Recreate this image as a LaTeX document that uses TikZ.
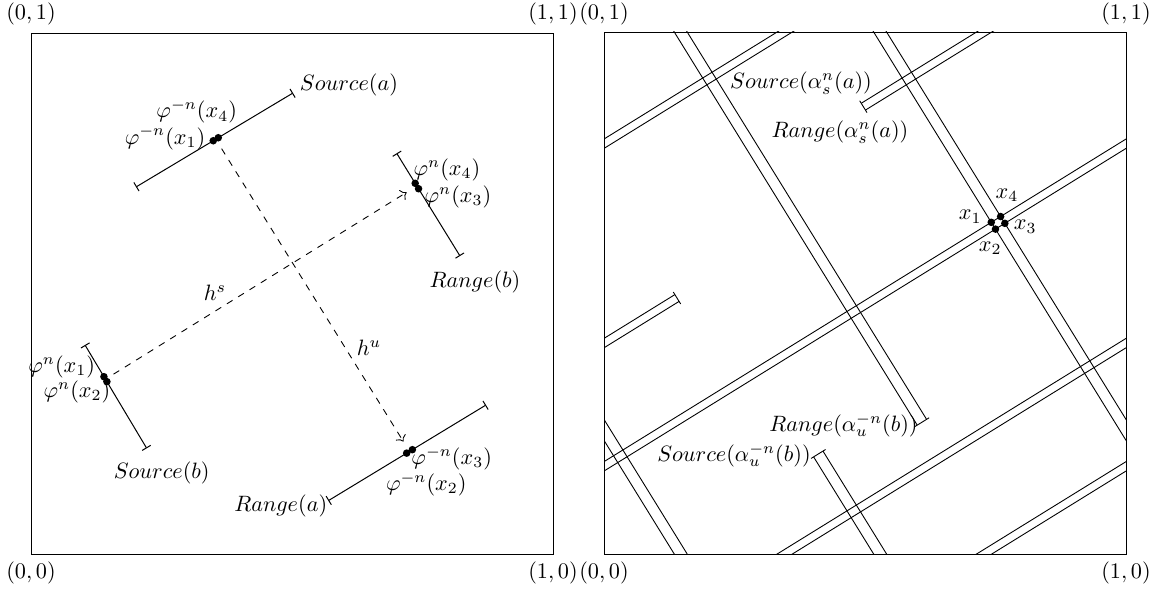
\documentclass[tikz,border=0pt]{standalone}
\usetikzlibrary{arrows.meta,calc}
\begin{document}
\begin{tikzpicture}[x=0.45pt,y=-0.45pt,
  frame/.style={draw,line width=0.4pt},
  corner/.style={inner sep=3.3pt},
  lab/.style={inner sep=0pt},
  seg/.style={{Bar[width=4.5pt]}-{Bar[width=4.5pt]},line width=0.45pt},
  dot/.style={circle,fill,inner sep=0pt,minimum size=3.4pt},
  flow/.style={dashed,->,line width=0.4pt},
  strip/.style={line width=0.4pt}]
\useasboundingbox (0,0) rectangle (1157,591);

% ---------------- left panel ----------------
\draw[frame] (31,33) rectangle (553,554);
\node[corner,anchor=south] (l01) at (31,33) {$(0,1)$};
\node[corner,anchor=south] (l11) at (553,33) {$(1,1)$};
\node[corner,anchor=north] (l00) at (31,554) {$(0,0)$};
\node[corner,anchor=north] (l10) at (553,554) {$(1,0)$};

% Source(a)
\coordinate (sa1) at (136,187); \coordinate (sa2) at (293,93);
\draw[seg] (sa1) -- (sa2);
\node[dot] (pa1) at ($(sa1)!0.492!(sa2)$) {};
\node[dot] (pa4) at ($(sa1)!0.524!(sa2)$) {};
\coordinate (ma) at ($(sa1)!0.508!(sa2)$);
% Range(b)
\coordinate (rb1) at (396.7,153.3); \coordinate (rb2) at (460,256);
\draw[seg] (rb1) -- (rb2);
\node[dot] (qb4) at ($(rb1)!0.292!(rb2)$) {};
\node[dot] (qb3) at ($(rb1)!0.345!(rb2)$) {};
\coordinate (mrb) at ($(rb1)!0.3185!(rb2)$);
% Source(b)
\coordinate (sb1) at (85,345); \coordinate (sb2) at (146.7,448.3);
\draw[seg] (sb1) -- (sb2);
\node[dot] (pb1) at ($(sb1)!0.307!(sb2)$) {};
\node[dot] (pb2) at ($(sb1)!0.355!(sb2)$) {};
\coordinate (msb) at ($(sb1)!0.331!(sb2)$);
% Range(a)
\coordinate (ra1) at (328.3,500.7); \coordinate (ra2) at (486,405);
\draw[seg] (ra1) -- (ra2);
\node[dot] (qa2) at ($(ra1)!0.497!(ra2)$) {};
\node[dot] (qa3) at ($(ra1)!0.533!(ra2)$) {};
\coordinate (mra) at ($(ra1)!0.515!(ra2)$);

% dashed holonomy arrows
\draw[flow,shorten <=4.3pt,shorten >=5.4pt] (msb) -- (mrb);
\draw[flow,shorten <=5pt,shorten >=5.2pt] (ma) -- (mra);

% labels left
\node[lab] (tsa) at (349,85) {$Source(a)$};
\node[lab] (tpa4) at (196.7,111.7) {$\varphi^{-n}(x_4)$};
\node[lab] (tpa1) at (165,138) {$\varphi^{-n}(x_1)$};
\node[lab] (tqb4) at (447,170) {$\varphi^{n}(x_4)$};
\node[lab] (tqb3) at (458,196.7) {$\varphi^{n}(x_3)$};
\node[lab] (trb) at (475,281.7) {$Range(b)$};
\node[lab] (tpb1) at (61.7,366.7) {$\varphi^{n}(x_1)$};
\node[lab] (tpb2) at (77,391.7) {$\varphi^{n}(x_2)$};
\node[lab] (tsb) at (161.7,473.3) {$Source(b)$};
\node[lab] (tqa3) at (451.7,458.3) {$\varphi^{-n}(x_3)$};
\node[lab] (tqa2) at (426.3,484) {$\varphi^{-n}(x_2)$};
\node[lab] (tra) at (280.7,505.7) {$Range(a)$};
\node[lab] (ths) at (215,293) {$h^s$};
\node[lab] (thu) at (369,348) {$h^u$};

% ---------------- right panel ----------------
\node[corner,anchor=south] (r01) at (604,33) {$(0,1)$};
\node[corner,anchor=south] (r11) at (1126,33) {$(1,1)$};
\node[corner,anchor=north] (r00) at (604,554) {$(0,0)$};
\node[corner,anchor=north] (r10) at (1126,554) {$(1,0)$};

\begin{scope}[shift={(604,554)},x=234.9pt,y=234.9pt]
  \draw[frame] (0,0) rectangle (1,1);
  \begin{scope}
    \clip (0,0) rectangle (1,1);
    % unstable strip (wrapped on the torus)
    \foreach \i in {0,1,2,3}{\foreach \j in {0,1,2}{
      \begin{scope}[shift={(-\i,-\j)}]
        \draw[strip] (0.49277,0.86342) -- (3.13577,2.49692);
        \draw[strip] (0.50083,0.85038) -- (3.14383,2.48388);
      \end{scope}}}
    % stable strip (wrapped on the torus)
    \foreach \i in {0,-1}{\foreach \j in {0,1,2}{
      \begin{scope}[shift={(\i,\j)}]
        \draw[strip] (0.41946,0.19714) -- (1.61796,-1.74206);
        \draw[strip] (0.40154,0.18606) -- (1.60004,-1.75314);
      \end{scope}}}
  \end{scope}
  % end bars
  \draw[strip] (0.48976,0.86830) -- (0.50385,0.84550);
  \draw[strip] (0.13276,0.50180) -- (0.14685,0.47900);
  \draw[strip] (0.42435,0.20016) -- (0.39665,0.18304);
  \draw[strip] (0.62285,0.26096) -- (0.59515,0.24384);
  % intersection points
  \node[dot] (x1) at (0.74187,0.63539) {};
  \node[dot] (x3) at (0.76786,0.63344) {};
  \node[dot] (x4) at (0.75980,0.64648) {};
  \node[dot] (x2) at (0.74993,0.62236) {};
\end{scope}

\node[lab] (tsan) at (801,83) {$Source(\alpha_s^n(a))$};
\node[lab] (tran) at (840,132) {$Range(\alpha_s^n(a))$};
\node[lab] (trbn) at (843.5,425) {$Range(\alpha_u^{-n}(b))$};
\node[lab] (tsbn) at (734,455) {$Source(\alpha_u^{-n}(b))$};
\node[lab] (tx1) at (970.3,216.7) {$x_1$};
\node[lab] (tx4) at (1007,195) {$x_4$};
\node[lab] (tx3) at (1025.3,226.7) {$x_3$};
\node[lab] (tx2) at (990.3,248.3) {$x_2$};
\end{tikzpicture}
\end{document}
